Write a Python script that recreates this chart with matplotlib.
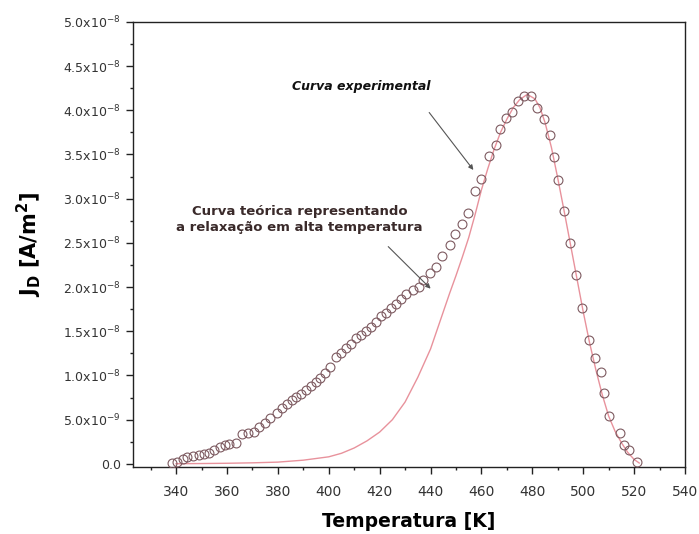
import matplotlib
matplotlib.use("Agg")
import matplotlib.pyplot as plt
from matplotlib.ticker import FixedLocator, MultipleLocator, FuncFormatter

# Experimental points (temperature K, current density in 1e-9 A/m^2)
exp_T = [338.3, 340.3, 342.6, 344.4, 346.8, 349.0, 351.0, 352.9, 354.9, 357.3,
         359.2, 360.9, 363.5, 366.1, 368.4, 370.6, 372.7, 374.9, 376.9, 379.5,
         381.5, 383.4, 385.4, 387.3, 389.0, 391.0, 392.9, 394.9, 396.7, 398.4,
         400.4, 403.0, 405.0, 406.9, 408.9, 410.9, 412.8, 414.8, 416.7, 418.7,
         420.7, 422.6, 424.6, 426.5, 428.5, 430.5, 433.1, 435.4, 437.0, 439.6,
         442.2, 444.6, 447.5, 449.8, 452.4, 454.6, 457.6, 459.9, 462.9, 465.8,
         467.1, 469.7, 472.0, 474.2, 476.9, 479.5, 481.8, 484.5, 486.8, 488.6,
         490.0, 492.4, 494.8, 497.2, 499.7, 502.1, 504.5, 506.9, 508.2, 510.2,
         514.4, 516.1, 518.0, 521.3]
exp_J = [0.08, 0.26, 0.53, 0.75, 0.9, 1.0, 1.13, 1.28, 1.58, 1.89,
         2.1, 2.26, 2.41, 3.36, 3.54, 3.65, 4.2, 4.67, 5.17, 5.73,
         6.3, 6.79, 7.24, 7.61, 7.88, 8.37, 8.82, 9.3, 9.69, 10.25,
         11.0, 12.1, 12.5, 13.1, 13.6, 14.2, 14.6, 15.0, 15.5, 16.1,
         16.7, 17.1, 17.6, 18.1, 18.6, 19.2, 19.7, 20.0, 20.8, 21.6,
         22.3, 23.5, 24.8, 26.0, 27.1, 28.4, 30.9, 32.2, 34.8, 36.1,
         37.9, 39.1, 39.8, 41.0, 41.6, 41.6, 40.3, 39.0, 37.2, 34.7,
         32.1, 28.6, 25.0, 21.4, 17.6, 14.0, 12.0, 10.4, 8.0, 5.4,
         3.5, 2.15, 1.58, 0.26]

# Theoretical curve (high temperature relaxation)
theo_T = [340, 350, 360, 370, 380, 390, 400, 405, 410, 415, 420, 425, 430, 435,
          440, 442.5, 445, 447.5, 450, 452.5, 455, 457.5, 460, 462.5, 465, 467.5,
          470, 472.5, 475, 478, 481, 483, 485, 487.5, 490, 492.5, 495, 497.5,
          500, 502.5, 505, 507.5, 510, 512.5, 515, 517.5, 520, 522]
theo_J = [0.02, 0.04, 0.07, 0.12, 0.2, 0.42, 0.8, 1.2, 1.8, 2.6, 3.6, 5.0, 7.0, 9.8,
          13.0, 15.1, 17.2, 19.3, 21.3, 23.4, 25.6, 28.2, 31.0, 33.4, 35.6, 37.5,
          39.0, 40.3, 41.2, 41.8, 41.3, 40.3, 38.6, 35.8, 32.3, 28.6, 24.8, 21.0,
          17.2, 13.7, 10.6, 7.8, 5.4, 3.7, 2.4, 1.3, 0.5, 0.1]

x_ticks = [340, 360, 380, 400, 420, 440, 460, 480, 500, 520, 540]
y_ticks = [0.0, 5.0e-9, 1.0e-8, 1.5e-8, 2.0e-8, 2.5e-8, 3.0e-8, 3.5e-8, 4.0e-8, 4.5e-8, 5.0e-8]

fig = plt.figure(figsize=(6.99, 5.34), dpi=100)
ax = fig.add_axes([0.19, 0.1255, 0.79, 0.8335])

ax.plot(theo_T, [j * 1e-9 for j in theo_J], color="#e8929c", lw=1.0, zorder=2)
ax.plot(exp_T, [j * 1e-9 for j in exp_J], linestyle="none", marker="o",
        markersize=6.4, markerfacecolor="none", markeredgecolor="#7d5a60",
        markeredgewidth=0.8, zorder=3)

ax.set_xlim(323, 540)
ax.set_ylim(-0.35e-9, 5.0e-8)

ax.xaxis.set_major_locator(FixedLocator(x_ticks))
ax.xaxis.set_minor_locator(MultipleLocator(10))
ax.yaxis.set_major_locator(FixedLocator(y_ticks))
ax.yaxis.set_minor_locator(MultipleLocator(2.5e-9))


def yfmt(v, pos):
    if abs(v) < 1e-12:
        return "0.0"
    if v < 9.9e-9:
        return r"%.1fx10$^{-9}$" % (v / 1e-9)
    return r"%.1fx10$^{-8}$" % (v / 1e-8)


ax.yaxis.set_major_formatter(FuncFormatter(yfmt))
ax.tick_params(axis="both", which="major", direction="out", length=5, width=1.0,
               labelcolor="#333333", color="#222222")
ax.tick_params(axis="y", labelsize=9)
ax.tick_params(axis="x", labelsize=10, pad=8)
ax.tick_params(axis="both", which="minor", direction="out", length=2.5, width=1.0,
               color="#222222")
for s in ax.spines.values():
    s.set_linewidth(1.0)
    s.set_color("#222222")

ax.set_xlabel("Temperatura [K]", fontsize=13.5, fontweight="bold", labelpad=9)
ax.set_ylabel(r"J$_\mathbf{D}$ [A/m$^\mathbf{2}$]", fontsize=15, fontweight="bold", labelpad=14)

ax.text(440, 4.2e-8, "Curva experimental", fontsize=9, fontweight="bold",
        fontstyle="italic", ha="right", va="bottom", color="#111111")
ax.annotate("", xy=(457.5, 3.3e-8), xytext=(438.8, 4.0e-8),
            arrowprops=dict(arrowstyle="-|>", color="#555555", lw=0.8,
                            mutation_scale=7))
ax.text(388.6, 2.77e-8, "Curva teórica representando\na relaxação em alta temperatura",
        fontsize=9.5, fontweight="semibold", ha="center", va="center",
        color="#3a2a2a", linespacing=1.3)
ax.annotate("", xy=(440.8, 1.96e-8), xytext=(422.6, 2.48e-8),
            arrowprops=dict(arrowstyle="-|>", color="#555555", lw=0.8,
                            mutation_scale=7))

fig.savefig("out.png", dpi=100)
